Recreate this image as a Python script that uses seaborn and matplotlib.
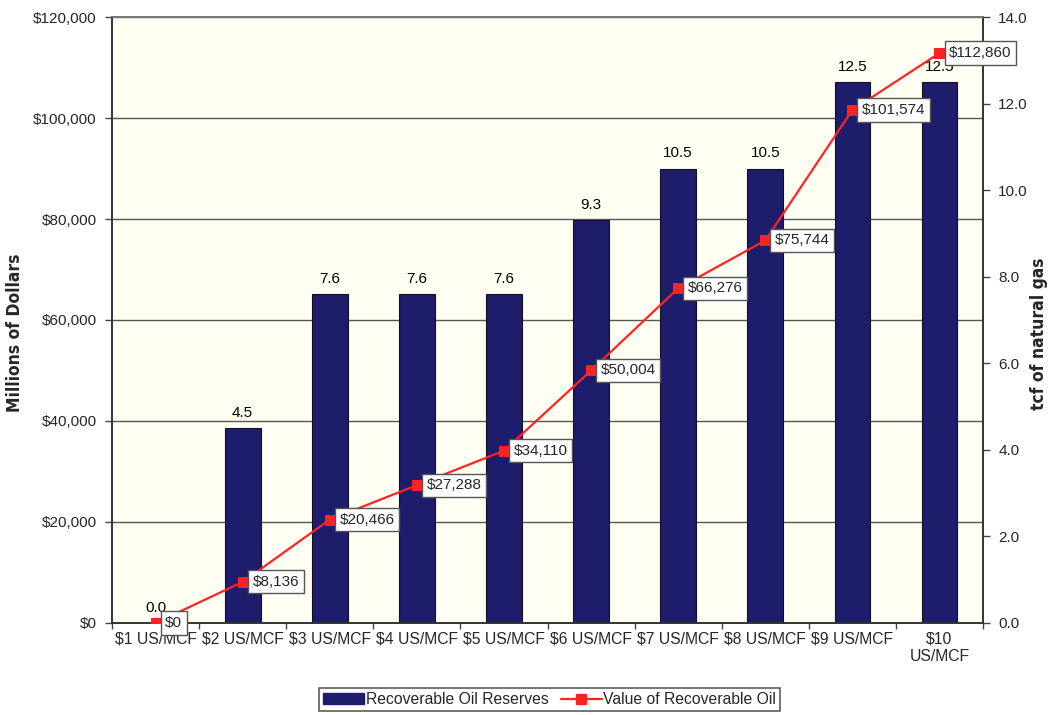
import numpy as np
import matplotlib
matplotlib.use("Agg")
import matplotlib.pyplot as plt
from matplotlib.patches import Patch
from matplotlib.lines import Line2D
from matplotlib.ticker import FuncFormatter, FixedLocator
import seaborn as sns

# Gas price scenarios
prices = ["$1 US/MCF", "$2 US/MCF", "$3 US/MCF", "$4 US/MCF", "$5 US/MCF",
          "$6 US/MCF", "$7 US/MCF", "$8 US/MCF", "$9 US/MCF", "$10\nUS/MCF"]
# Recoverable reserves, tcf of natural gas (right axis)
reserves_tcf = [0.0, 4.5, 7.6, 7.6, 7.6, 9.3, 10.5, 10.5, 12.5, 12.5]
# Value of recoverable oil, millions of dollars (left axis)
value_musd = [0, 8136, 20466, 27288, 34110, 50004, 66276, 75744, 101574, 112860]

usd_ticks = [0, 20000, 40000, 60000, 80000, 100000, 120000]
tcf_ticks = [0, 2, 4, 6, 8, 10, 12, 14]

NAVY = "#1d1d6b"
RED = "#ff2222"
PLOT_BG = "#fffff3"

sns.set_style("white")
plt.rcParams["font.family"] = ["Liberation Sans", "DejaVu Sans"]

fig = plt.figure(figsize=(10.51, 7.15), dpi=100)
ax_bar = fig.add_axes([0.1066, 0.1287, 0.8287, 0.8475])
ax_line = ax_bar.twinx()

ax_bar.set_facecolor(PLOT_BG)
ax_line.patch.set_visible(False)

usd_max = usd_ticks[-1]
tcf_max = tcf_ticks[-1]

# horizontal gridlines at the dollar ticks, kept behind the bars
for v in usd_ticks[1:]:
    ax_bar.axhline(v * tcf_max / usd_max, color="#555555", lw=1.0, zorder=0.5)

# reserves as bars on the right-hand scale
sns.barplot(x=prices, y=reserves_tcf, order=prices, ax=ax_bar, color=NAVY,
            saturation=1, width=0.41, edgecolor="#111122", linewidth=0.8,
            zorder=2)
for c in ax_bar.containers:
    ax_bar.bar_label(c, labels=[f"{v:.1f}" for v in reserves_tcf],
                     padding=6, fontsize=11, color="black")

# dollar value line on the left-hand scale
idx = np.arange(len(prices))
sns.lineplot(x=idx, y=value_musd, ax=ax_line, color=RED, lw=1.6,
             marker="s", markersize=7, markeredgecolor=RED, zorder=5)
for i, v in zip(idx, value_musd):
    ax_line.annotate(f"${v:,.0f}", (i, v), xytext=(7, 0),
                     textcoords="offset points", ha="left", va="center",
                     fontsize=11, zorder=6,
                     bbox=dict(boxstyle="square,pad=0.3", fc="white",
                               ec="#555555", lw=1.0))

# axes limits and ticks
ax_bar.set_xlim(-0.5, len(prices) - 0.5)
ax_bar.set_ylim(0, tcf_max)
ax_line.set_ylim(0, usd_max)

ax_bar.yaxis.tick_right()
ax_bar.yaxis.set_label_position("right")
ax_line.yaxis.tick_left()
ax_line.yaxis.set_label_position("left")

ax_bar.set_yticks(tcf_ticks)
ax_bar.yaxis.set_major_formatter(FuncFormatter(lambda v, p: f"{v:.1f}"))
ax_line.set_yticks(usd_ticks)
ax_line.yaxis.set_major_formatter(FuncFormatter(lambda v, p: f"${v:,.0f}"))

ax_bar.set_xticks(idx)
ax_bar.set_xticklabels(prices, fontsize=11.3, linespacing=1.2)
ax_bar.xaxis.set_minor_locator(FixedLocator(np.arange(-0.5, len(prices), 1.0)))
ax_bar.tick_params(axis="x", which="major", length=0, pad=6)
ax_bar.tick_params(axis="x", which="minor", length=4, width=1, color="#444444",
                   direction="out", bottom=True)
ax_bar.tick_params(axis="y", which="major", length=5, width=1, color="#444444",
                   direction="out", labelsize=11, pad=6, right=True, left=False)
ax_line.tick_params(axis="y", which="major", length=5, width=1, color="#444444",
                    direction="out", labelsize=11, pad=6, left=True, right=False)
ax_line.tick_params(axis="x", length=0)

ax_bar.set_xlabel("")
ax_bar.set_ylabel("")
ax_line.set_ylabel("")
ax_line.set_xlabel("")

for a in (ax_bar, ax_line):
    for s in a.spines.values():
        s.set_color("#333333")
        s.set_linewidth(1.2)
ax_bar.spines["top"].set_color("#777777")
ax_line.spines["top"].set_color("#777777")

# axis titles in a condensed bold face
title_font = dict(family=["Liberation Sans Narrow", "DejaVu Sans"],
                  fontweight="bold", fontstretch="condensed", fontsize=12.5)
fig.text(0.0145, 0.535, "Millions of Dollars", rotation=90,
         ha="center", va="center", **title_font)
fig.text(0.9885, 0.533, "tcf of natural gas", rotation=90,
         ha="center", va="center", **title_font)

handles = [Patch(facecolor=NAVY, edgecolor=NAVY),
           Line2D([0], [0], color=RED, lw=1.6, marker="s", markersize=7)]
leg = fig.legend(handles, ["Recoverable Oil Reserves", "Value of Recoverable Oil"],
                 loc="center", bbox_to_anchor=(0.523, 0.0215), ncol=2,
                 fontsize=11.3, frameon=True, fancybox=False, edgecolor="#333333",
                 handlelength=2.6, handletextpad=0.1, columnspacing=0.8,
                 borderpad=0.25)
leg.get_frame().set_linewidth(1.2)

fig.savefig("out.png", dpi=100, facecolor="white")
